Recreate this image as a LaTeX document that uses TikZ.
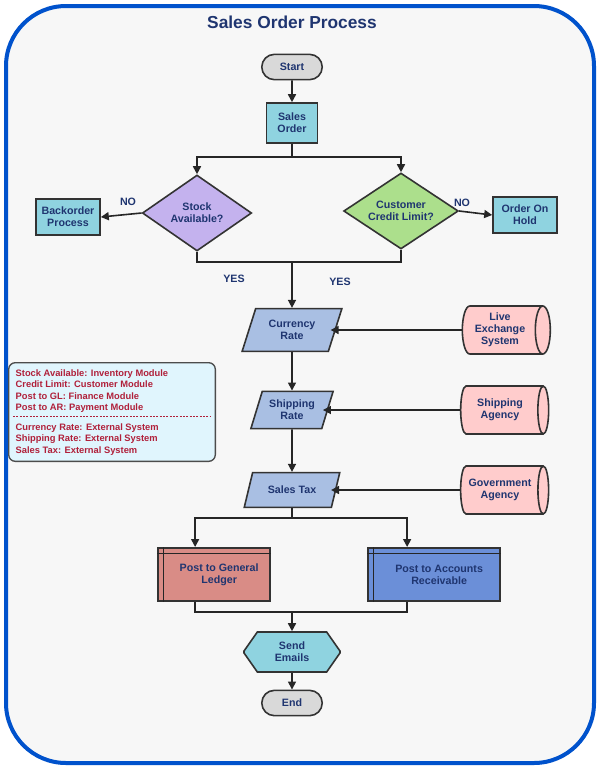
\documentclass[tikz,border=0pt]{standalone}
\usepackage{fontspec}
\setmainfont{Liberation Sans}
\usetikzlibrary{shapes.geometric,shapes.misc,arrows.meta}
\definecolor{navy}{HTML}{1F3570}
\definecolor{legred}{HTML}{B0203A}
\definecolor{iofill}{HTML}{A9BFE3}
\definecolor{glfill}{HTML}{D98C86}
\definecolor{arfill}{HTML}{6B8FD8}
\definecolor{procfill}{HTML}{8FD3E0}
\tikzset{
  every node/.style={font=\bfseries\fontsize{8}{9}\selectfont, text=navy, align=center},
  base/.style={draw=black!80, line width=1.2pt},
  term/.style={base, rounded rectangle, fill=black!15, minimum width=52pt, minimum height=19pt},
  proc/.style={base, rectangle, fill=procfill, minimum width=38pt, minimum height=30pt},
  dec/.style={base, diamond, aspect=1.45, inner sep=1pt},
  io/.style={base, trapezium, trapezium left angle=70, trapezium right angle=110, fill=iofill, minimum width=70pt, minimum height=28pt, trapezium stretches=true},
  ext/.style={base, cylinder, shape border rotate=0, aspect=0.35, fill=red!20, minimum width=36pt, minimum height=66pt},
  arr/.style={draw=black!85, line width=1.2pt, -{Triangle[length=6pt,width=6pt]}},
  ln/.style={draw=black!85, line width=1.2pt},
}
\begin{document}
\begin{tikzpicture}[x=0.75pt,y=-0.75pt]
\useasboundingbox (0,0) rectangle (600,769);
\fill[white] (0,0) rectangle (600,769);
\draw[line width=3pt, draw=blue!60!cyan!80!black, fill=black!3, rounded corners=45pt] (6,6) rectangle (594,763);
\node[font=\bfseries\fontsize{13}{15}\selectfont] (title) at (292,22) {Sales Order Process};

\node[term] (start) at (292,67) {Start};
\node[proc, minimum width=38pt, minimum height=30pt] (so) at (292,123) {Sales\\Order};
\node[dec, fill=violet!45!blue!30, minimum width=82pt, minimum height=57pt] (stock) at (197,213) {Stock\\Available?};
\node[dec, fill=green!45!olive!45!white, minimum width=86pt, minimum height=57pt] (credit) at (401,211) {Customer\\Credit Limit?};
\node[proc, minimum width=48pt, minimum height=27pt] (back) at (68,217) {Backorder\\Process};
\node[proc, minimum width=48pt, minimum height=27pt] (hold) at (525,215) {Order On\\Hold};
\node (no1) at (128,202) {NO};
\node (no2) at (462,203) {NO};
\node (yes1) at (234,279) {YES};
\node (yes2) at (340,282) {YES};

\node[io, minimum width=75pt, minimum height=32pt] (cur) at (292,330) {Currency\\Rate};
\node[io, minimum width=62pt, minimum height=28pt] (ship) at (292,410) {Shipping\\Rate};
\node[io, minimum width=72pt, minimum height=26pt] (tax) at (292,490) {Sales Tax};
\node[ext] (live) at (500,330) {Live\\Exchange\\System};
\node[ext] (agency) at (500,410) {Shipping\\Agency};
\node[ext] (gov) at (500,490) {Government\\Agency};

\node[base, fill=glfill, minimum width=84pt, minimum height=40pt, anchor=north west] (gl) at (157,547) {};
\node at ([xshift=4pt]gl.center) {Post to General\\Ledger};
\node[base, fill=arfill, minimum width=99pt, minimum height=40pt, anchor=north west] (ar) at (367,547) {};
\node at ([xshift=4pt]ar.center) {Post to Accounts\\Receivable};
\draw[ln] ([yshift=-5pt]gl.north west) -- ([yshift=-5pt]gl.north east);
\draw[ln] ([xshift=5pt]gl.north west) -- ([xshift=5pt]gl.south west);
\draw[ln] ([yshift=-5pt]ar.north west) -- ([yshift=-5pt]ar.north east);
\draw[ln] ([xshift=5pt]ar.north west) -- ([xshift=5pt]ar.south west);

\node[base, chamfered rectangle, chamfered rectangle xsep=2cm, chamfered rectangle angle=35, fill=procfill, minimum width=72pt, minimum height=30pt] (mail) at (292,652) {Send\\Emails};
\node[term] (end) at (292,703) {End};

\node[base, draw=black!70, line width=1pt, rounded corners=5pt, fill=cyan!12, minimum width=155pt, minimum height=74pt, anchor=north west] (leg) at (8,362) {};
\node[anchor=north west, align=left, text=legred, font=\bfseries\fontsize{7}{8.6}\selectfont] (leg1) at (11,365) {Stock Available: Inventory Module\\Credit Limit: Customer Module\\Post to GL: Finance Module\\Post to AR: Payment Module};
\node[anchor=north west, align=left, text=legred, font=\bfseries\fontsize{7}{8.6}\selectfont] (leg2) at (11,419) {Currency Rate: External System\\Shipping Rate: External System\\Sales Tax: External System};
\draw[legred, dashed, line width=0.6pt, dash pattern=on 1.5pt off 1pt] (13,416) -- (211,416);

\coordinate (sp) at (292,157);
\coordinate (jn) at (292,262);
\coordinate (tj) at (292,518);
\coordinate (bj) at (292,612);

\draw[arr] (start) -- (so);
\draw[ln] (so) -- (sp);
\draw[arr] (sp) -| (stock.north);
\draw[arr] (sp) -| (credit.north);
\draw[arr] (stock.west) -- (back.east);
\draw[arr] (credit.east) -- (hold.west);
\draw[ln] (stock.south) |- (jn);
\draw[ln] (credit.south) |- (jn);
\draw[arr] (jn) -- (cur);
\draw[arr] (cur) -- (ship);
\draw[arr] (ship) -- (tax);
\draw[arr] (live.west) -- ([xshift=-4pt]cur.east);
\draw[arr] (agency.west) -- ([xshift=-4pt]ship.east);
\draw[arr] (gov.west) -- ([xshift=-4pt]tax.east);
\draw[ln] (tax) -- (tj);
\draw[arr] (tj) -| ([xshift=-14pt]gl.north);
\draw[arr] (tj) -| ([xshift=-20pt]ar.north);
\draw[ln] ([xshift=-14pt]gl.south) |- (bj);
\draw[ln] ([xshift=-20pt]ar.south) |- (bj);
\draw[arr] (bj) -- (mail);
\draw[arr] (mail) -- (end);
\end{tikzpicture}
\end{document}
